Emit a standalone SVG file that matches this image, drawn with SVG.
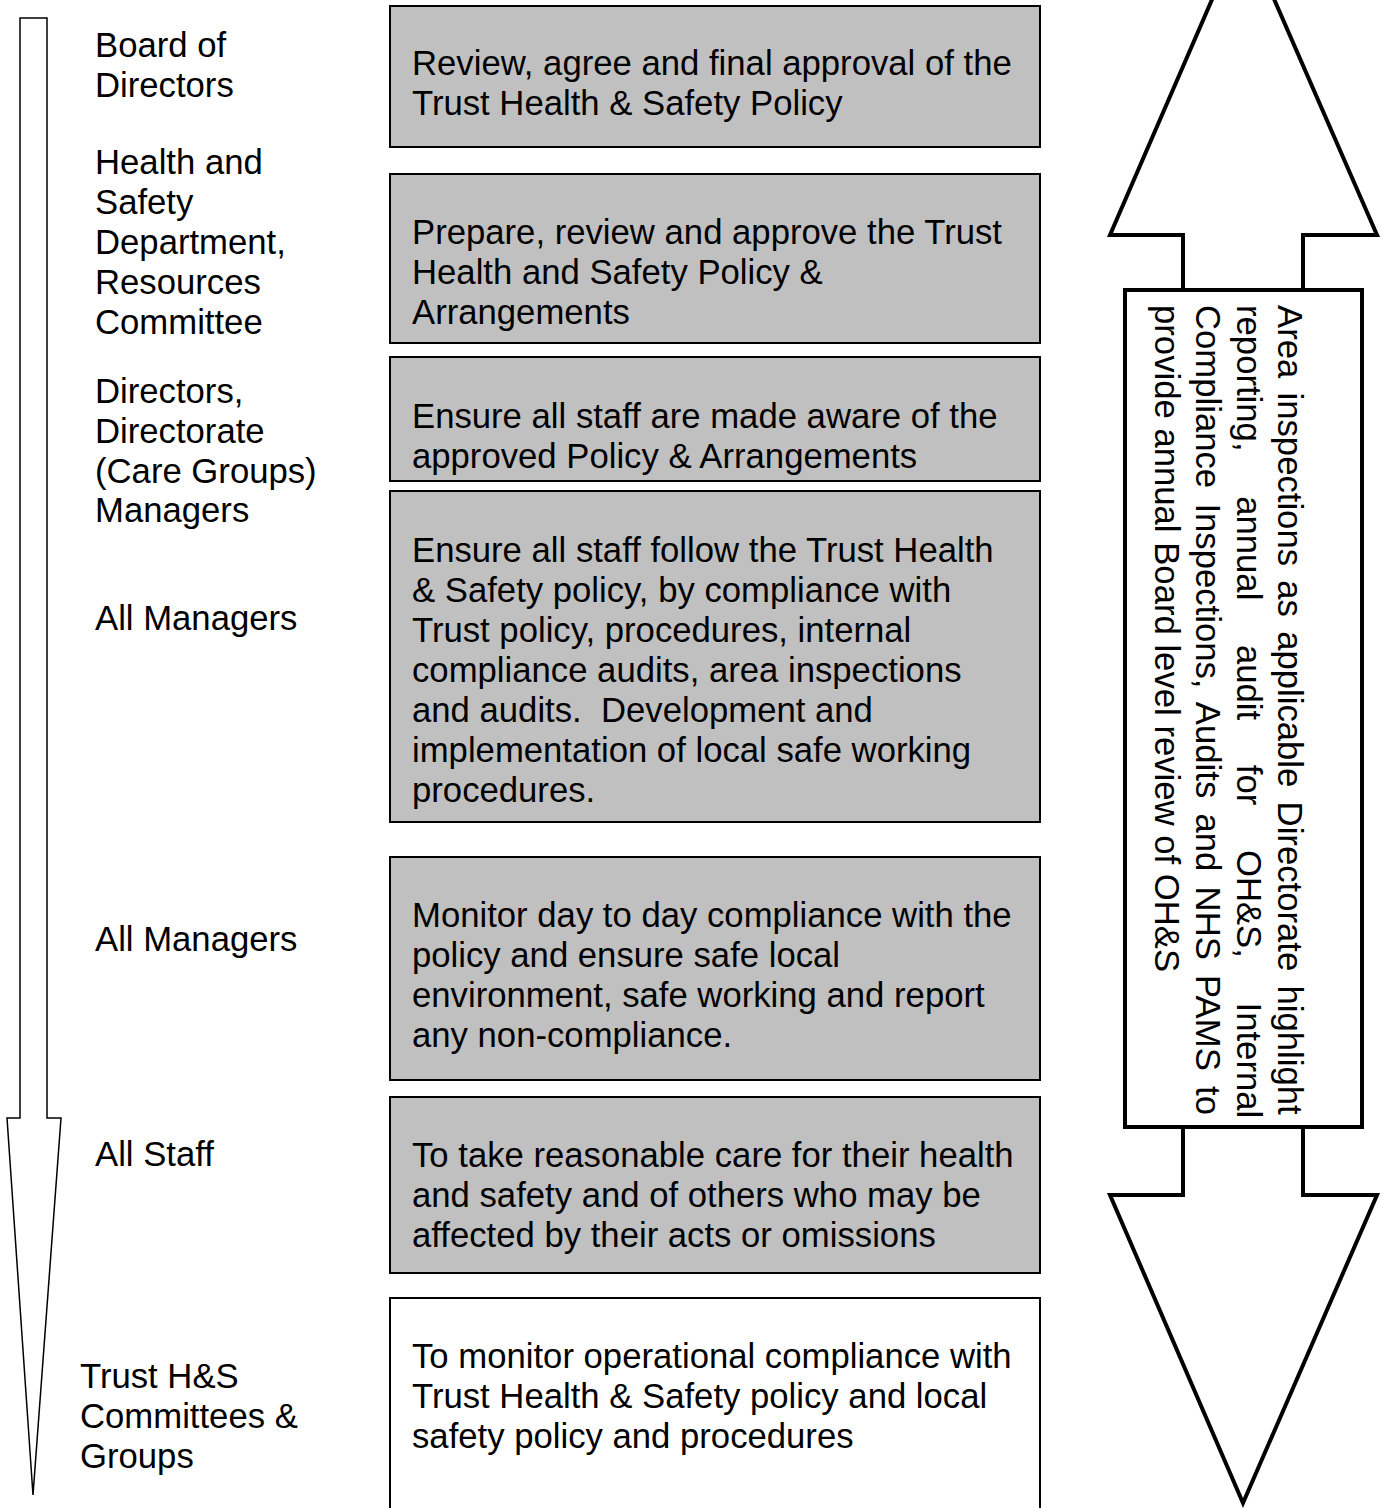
<svg xmlns="http://www.w3.org/2000/svg" width="1383" height="1508" viewBox="0 0 1383 1508">
<style>
text{font-family:"Liberation Sans",Arial,sans-serif;font-size:34.7px;fill:#000}
.box{fill:#c0c0c0;stroke:#000;stroke-width:2}
.wbox{fill:#fff;stroke:#000;stroke-width:2}
.thin{fill:#fff;stroke:#000;stroke-width:1.5;stroke-linejoin:miter}
.thick{fill:#fff;stroke:#000;stroke-width:4;stroke-linejoin:miter}
</style>
<rect width="1383" height="1508" fill="#fff"/>
<g id="connectors">
<path id="down-arrow" class="thin" d="M20,18 H47 V1118 H61 L33,1495 L7,1118 H20 Z"/>
<path id="up-arrow" class="thick" d="M1183,290 V235 H1110 L1243,-72 L1377,235 H1303 V290"/>
<path id="down-arrow2" class="thick" d="M1183,1127 V1195 H1110 L1243,1503 L1377,1195 H1303 V1127"/>
</g>
<g id="labels">
<text x="95" y="57">Board of</text>
<text x="95" y="97">Directors</text>
<text x="95" y="174">Health and</text>
<text x="95" y="214">Safety</text>
<text x="95" y="254">Department,</text>
<text x="95" y="294">Resources</text>
<text x="95" y="334">Committee</text>
<text x="95" y="403">Directors,</text>
<text x="95" y="443">Directorate</text>
<text x="95" y="483">(Care Groups)</text>
<text x="95" y="522">Managers</text>
<text x="95" y="630">All Managers</text>
<text x="95" y="951">All Managers</text>
<text x="95" y="1166">All Staff</text>
<text x="80" y="1388">Trust H&amp;S</text>
<text x="80" y="1428">Committees &amp;</text>
<text x="80" y="1468">Groups</text>
</g>
<g id="node1">
<rect class="box" x="390" y="6" width="650" height="141"/>
<text x="412" y="75">Review, agree and final approval of the</text>
<text x="412" y="115">Trust Health &amp; Safety Policy</text>
</g>
<g id="node2">
<rect class="box" x="390" y="174" width="650" height="169"/>
<text x="412" y="244">Prepare, review and approve the Trust</text>
<text x="412" y="284">Health and Safety Policy &amp;</text>
<text x="412" y="324">Arrangements</text>
</g>
<g id="node3">
<rect class="box" x="390" y="357" width="650" height="124"/>
<text x="412" y="428">Ensure all staff are made aware of the</text>
<text x="412" y="468">approved Policy &amp; Arrangements</text>
</g>
<g id="node4">
<rect class="box" x="390" y="491" width="650" height="331"/>
<text x="412" y="562">Ensure all staff follow the Trust Health</text>
<text x="412" y="602">&amp; Safety policy, by compliance with</text>
<text x="412" y="642">Trust policy, procedures, internal</text>
<text x="412" y="682">compliance audits, area inspections</text>
<text x="412" y="722" xml:space="preserve">and audits.  Development and</text>
<text x="412" y="762">implementation of local safe working</text>
<text x="412" y="802">procedures.</text>
</g>
<g id="node5">
<rect class="box" x="390" y="857" width="650" height="223"/>
<text x="412" y="927">Monitor day to day compliance with the</text>
<text x="412" y="967">policy and ensure safe local</text>
<text x="412" y="1007">environment, safe working and report</text>
<text x="412" y="1047">any non-compliance.</text>
</g>
<g id="node6">
<rect class="box" x="390" y="1097" width="650" height="176"/>
<text x="412" y="1167">To take reasonable care for their health</text>
<text x="412" y="1207">and safety and of others who may be</text>
<text x="412" y="1247">affected by their acts or omissions</text>
</g>
<g id="node7">
<rect class="wbox" x="390" y="1298" width="650" height="230"/>
<text x="412" y="1368">To monitor operational compliance with</text>
<text x="412" y="1408">Trust Health &amp; Safety policy and local</text>
<text x="412" y="1448">safety policy and procedures</text>
</g>
<g id="node8">
<rect class="thick" x="1125" y="290" width="237" height="837"/>
<g transform="rotate(90)">
<text x="305" y="-1278" style="word-spacing:4.6px">Area inspections as applicable Directorate highlight</text>
<text x="305" y="-1237" style="word-spacing:35px">reporting, annual audit for OH&amp;S, Internal</text>
<text x="305" y="-1196" style="word-spacing:5.6px">Compliance Inspections, Audits and NHS PAMS to</text>
<text x="305" y="-1155">provide annual Board level review of OH&amp;S</text>
</g>
</g>
</svg>
